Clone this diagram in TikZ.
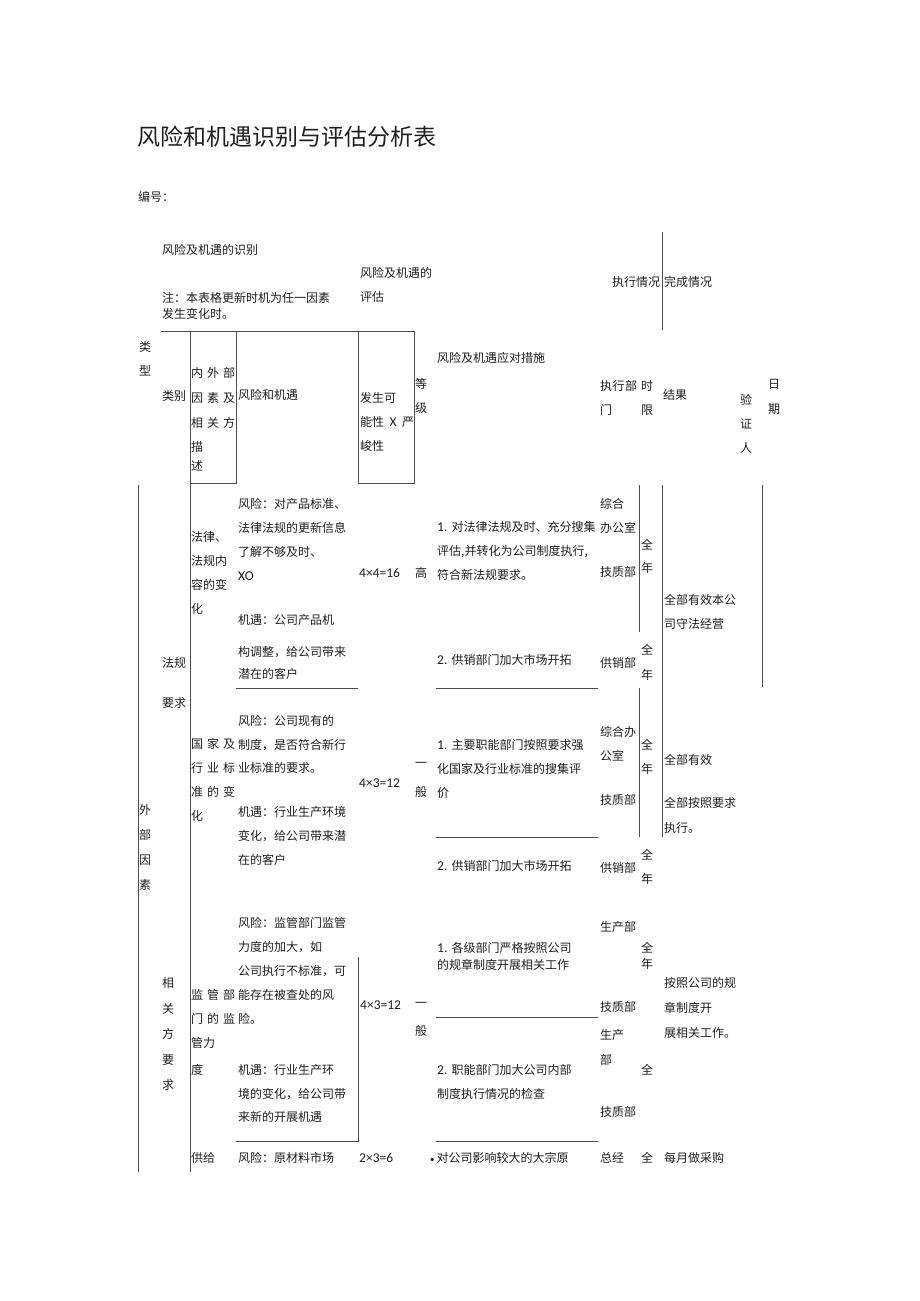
\documentclass[tikz,border=0pt]{standalone}
\usepackage{fontspec}
\setmainfont{Noto Sans CJK SC}
\newfontfamily\lat{Carlito}
\newcommand{\ltn}[1]{{\lat\fontsize{13.5}{24}\selectfont #1}}
\newcommand{\spread}[2]{\makebox[#1][s]{#2}}

\begin{document}
\begin{tikzpicture}[x=1pt,y=-1pt,
    every node/.style={inner sep=0pt,text=black!88,font=\fontsize{12}{24}\selectfont},
    txt/.style={anchor=west},
    blk/.style={anchor=north west,align=left},
    num/.style={anchor=west,font=\lat\fontsize{13.5}{24}\selectfont},
    rule/.style={black!70,line width=0.8pt}]
  \useasboundingbox (0,0) rectangle (920,1301);

  % heading
  \node (title) [txt,font=\fontsize{23}{23}\selectfont] at (137,137) {风险和机遇识别与评估分析表};
  \node (number) [txt] at (138,197) {编号：};
  \node (idhead) [txt] at (162,250) {风险及机遇的识别};
  \node (note) [blk,font=\fontsize{12}{16}\selectfont] at (162,292) {注：本表格更新时机为任一因素\\发生变化时。};
  \node (evalhead) [blk] at (360,267.5) {风险及机遇的\\评估};
  \node (exechead) [txt] at (612,282) {执行情况};
  \node (donehead) [txt] at (664,282) {完成情况};

  % column heads
  \node (typehead) [blk] at (139,341.5) {类\\型};
  \node (cathead) [txt] at (162,396) {类别};
  \node (factorhead) [blk,font=\fontsize{12}{25}\selectfont] at (191,367.5)
    {\spread{44pt}{内\hfill 外\hfill 部}\\\spread{44pt}{因\hfill 素\hfill 及}\\\spread{44pt}{相\hfill 关\hfill 方}};
  \node (factorhead2) [blk,font=\fontsize{12}{19}\selectfont] at (191,441.5) {描\\述};
  \node (riskhead) [txt] at (238,395) {风险和机遇};
  \node (scorehead) [blk] at (360,392.5) {发生可\\\spread{54pt}{能性\hfill\ltn{X}\hfill 严}\\峻性};
  \node (levelhead) [blk] at (415,378.5) {等\\级};
  \node (measurehead) [txt] at (437,358) {风险及机遇应对措施};
  \node (depthead) [blk] at (600,380.5) {\spread{37pt}{执\hfill 行\hfill 部}\\门};
  \node (limithead) [blk] at (641,380.5) {时\\限};
  \node (resulthead) [txt] at (663,395) {结果};
  \node (verifierhead) [blk] at (740,394.5) {验\\证\\人};
  \node (datehead) [blk,font=\fontsize{12}{25}\selectfont] at (768,379.5) {日\\期};

  % group labels
  \node (outerhead) [blk,font=\fontsize{12}{25}\selectfont] at (139,804.5) {外\\部\\因\\素};
  \node (lawgroup) [txt] at (162,663) {法规};
  \node (lawgroup2) [txt] at (162,703) {要求};
  \node (partygroup) [blk,font=\fontsize{12}{25.5}\selectfont] at (162,977.5) {相\\关\\方\\要\\求};

  % laws and rules
  \node (lawitem) [blk] at (191,531.5) {法律、\\法规内\\容的变\\化};
  \node (lawrisk) [blk] at (238,498.5) {风险：对产品标准、\\法律法规的更新信息\\了解不够及时、\\\ltn{XO}};
  \node (lawchance) [blk] at (238,614.5) {机遇：公司产品机\\[8pt]构调整，给公司带来\\[-2pt]潜在的客户};
  \node (lawscore) [num] at (359,573) {4×4=16};
  \node (lawlevel) [txt] at (415,573) {高};
  \node (lawstep1) [blk] at (437,521.5) {\ltn{1. }对法律法规及时、充分搜集\\评估,并转化为公司制度执行,\\符合新法规要求。};
  \node (lawdept1) [blk] at (600,498.5) {综合\\办公室};
  \node (lawdept1b) [txt] at (600,572) {技质部};
  \node (lawterm1) [blk,font=\fontsize{12}{23}\selectfont] at (641,539.5) {全\\年};
  \node (lawresult) [blk] at (664,594.5) {全部有效本公\\司守法经营};
  \node (lawstep2) [txt] at (437,660) {\ltn{2. }供销部门加大市场开拓};
  \node (lawdept2) [txt] at (600,663) {供销部};
  \node (lawterm2) [blk,font=\fontsize{12}{25}\selectfont] at (641,644.5) {全\\年};

  % national and trade standards
  \node (stditem) [blk] at (191,738.5)
    {\spread{44pt}{国\hfill 家\hfill 及}\\\spread{44pt}{行\hfill 业\hfill 标}\\\spread{44pt}{准\hfill 的\hfill 变}\\化};
  \node (stdrisk) [blk,font=\fontsize{12}{23.5}\selectfont] at (238,715.5) {风险：公司现有的\\制度，是否符合新行\\业标准的要求。};
  \node (stdchance) [blk] at (238,806.5) {机遇：行业生产环境\\变化，给公司带来潜\\在的客户};
  \node (stdscore) [num] at (359,783) {4×3=12};
  \node (stdlevel) [blk,font=\fontsize{12}{29}\selectfont] at (415,762.5) {一\\般};
  \node (stdstep1) [blk] at (437,739.5) {\ltn{1. }主要职能部门按照要求强\\化国家及行业标准的搜集评\\价};
  \node (stddept1) [blk] at (600,726.5) {综合办\\公室};
  \node (stddept1b) [txt] at (600,800) {技质部};
  \node (stdterm1) [blk] at (641,739.5) {全\\年};
  \node (stdresult1) [txt] at (664,760) {全部有效};
  \node (stdresult2) [blk,font=\fontsize{12}{25}\selectfont] at (664,797.5) {全部按照要求\\执行。};
  \node (stdstep2) [txt] at (437,866) {\ltn{2. }供销部门加大市场开拓};
  \node (stddept2) [txt] at (600,868) {供销部};
  \node (stdterm2) [blk] at (641,849.5) {全\\年};

  % supervision
  \node (supitem) [blk] at (191,989.5)
    {\spread{44pt}{监\hfill 管\hfill 部}\\\spread{44pt}{门\hfill 的\hfill 监}\\管力\\[3pt]度};
  \node (suprisk) [blk] at (238,917.5) {风险：监管部门监管\\力度的加大，如\\公司执行不标准，可\\能存在被查处的风\\险。};
  \node (supchance) [blk,font=\fontsize{12}{23.5}\selectfont] at (238,1064.5) {机遇：行业生产环\\境的变化，给公司带\\来新的开展机遇};
  \node (supscore) [num] at (360,1005) {4×3=12};
  \node (suplevel) [blk,font=\fontsize{12}{28}\selectfont] at (415,1002.5) {一\\般};
  \node (supstep1) [blk,font=\fontsize{12}{17}\selectfont] at (437,942.5) {\ltn{1. }各级部门严格按照公司\\的规章制度开展相关工作};
  \node (supdept1) [txt] at (600,927) {生产部};
  \node (supterm1) [blk,font=\fontsize{12}{16}\selectfont] at (641,942.5) {全\\年};
  \node (supresult) [blk,font=\fontsize{12}{25}\selectfont] at (664,977.5) {按照公司的规\\章制度开\\展相关工作。};
  \node (supdept1b) [txt] at (600,1007) {技质部};
  \node (supdept2) [blk,font=\fontsize{12}{25}\selectfont] at (600,1029.5) {生产\\部};
  \node (supterm2) [txt] at (641,1070) {全};
  \node (supdept2b) [txt] at (600,1112) {技质部};
  \node (supstep2) [blk] at (437,1064.5) {\ltn{2. }职能部门加大公司内部\\制度执行情况的检查};

  % supply
  \node (buyitem) [txt] at (191,1158) {供给};
  \node (buyrisk) [txt] at (238,1158) {风险：原材料市场};
  \node (buyscore) [num] at (359,1158) {2×3=6};
  \node (buystep) [txt] at (430,1158) {{\lat\fontsize{9}{24}\selectfont •}\hspace{2pt}对公司影响较大的大宗原};
  \node (buydept) [txt] at (600,1158) {总经};
  \node (buyterm) [txt] at (641,1158) {全};
  \node (buyresult) [txt] at (664,1158) {每月做采购};

  % rules of the table
  \draw[rule] (161,331) -- (414,331);
  \draw[rule] (190,331) -- (190,1172);
  \draw[rule] (190,483) -- (236,483) -- (236,331);
  \draw[rule] (358,331) -- (358,483) -- (414,483) -- (414,331);
  \draw[rule] (662,232) -- (662,330);
  \draw[rule] (138,485) -- (138,1172);
  \draw[rule] (639,485) -- (639,632);
  \draw[rule] (639,688) -- (639,837);
  \draw[rule] (662,485) -- (662,837);
  \draw[rule] (762,485) -- (762,687);
  \draw[rule] (236,688) -- (358,688);
  \draw[rule] (436,688) -- (598,688);
  \draw[rule] (436,837) -- (598,837);
  \draw[rule] (358,957) -- (358,1141) -- (236,1141);
  \draw[rule] (436,1017) -- (598,1017);
  \draw[rule] (436,1141) -- (598,1141);
\end{tikzpicture}
\end{document}
